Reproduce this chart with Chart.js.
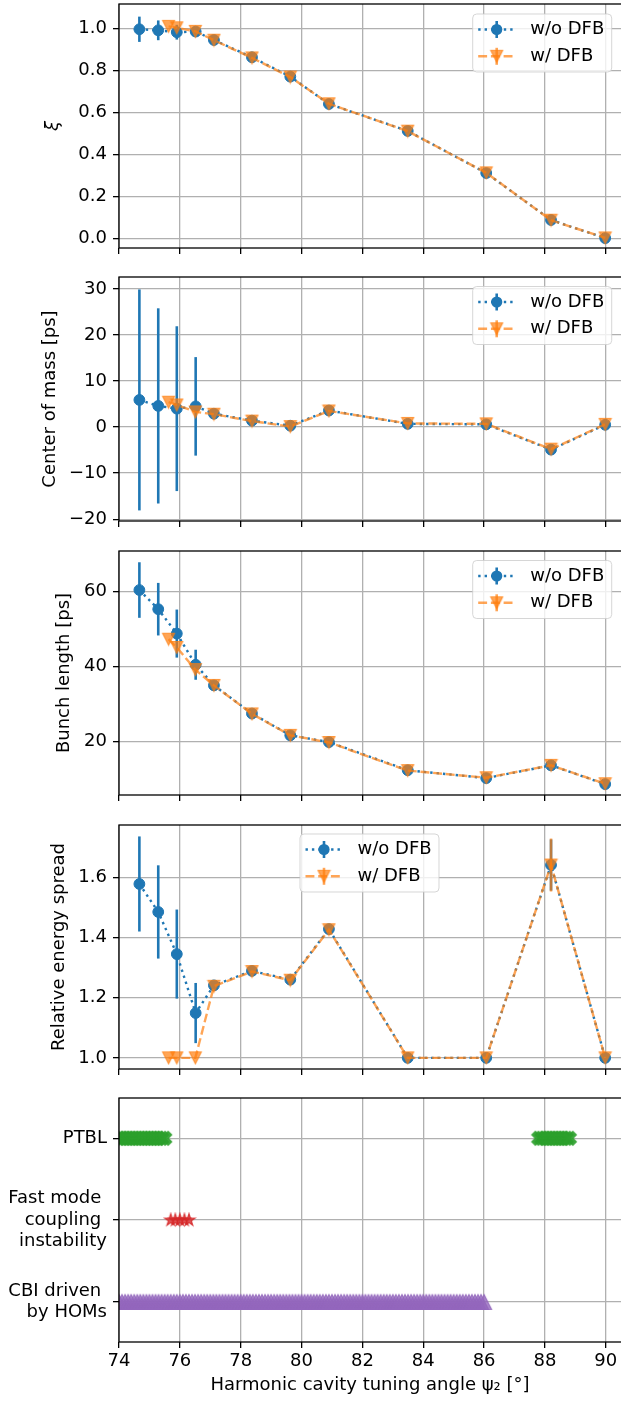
<!DOCTYPE html>
<html>
<head>
<meta charset="utf-8">
<script src="https://cdn.jsdelivr.net/npm/chart.js@4.4.1/dist/chart.umd.min.js"></script>
<style>
  html, body { margin: 0; padding: 0; background: #fff; }
  #wrap { position: relative; width: 621px; height: 1401px; overflow: hidden; }
  #wrap canvas { position: absolute; left: 0; }
</style>
</head>
<body>
<div id="wrap">
  <canvas id="p0" width="621" height="273" style="top:0px"></canvas>
  <canvas id="p1" width="621" height="273" style="top:273px"></canvas>
  <canvas id="p2" width="621" height="273" style="top:547px"></canvas>
  <canvas id="p3" width="621" height="273" style="top:821px"></canvas>
  <canvas id="p4" width="621" height="307" style="top:1094px"></canvas>
</div>
<script>
// ---------- data ----------
const xTicks = [74, 76, 78, 80, 82, 84, 86, 88, 90];
const seriesLabels = ['w/o DFB', 'w/ DFB'];

// tuning angles of the measured points
const psiNoDfb = [74.67, 75.29, 75.9, 76.52, 77.12, 78.37, 79.63, 80.9, 83.49, 86.07, 88.2, 89.98];
const psiDfb = [75.63, 75.9, 76.51, 77.12, 78.37, 79.63, 80.9, 83.49, 86.07, 88.2, 89.98];

// xi
const xiTicks = [0, 0.2, 0.4, 0.6, 0.8, 1.0];
const xiNoDfb = [0.995, 0.99, 0.981, 0.984, 0.944, 0.862, 0.77, 0.64, 0.512, 0.312, 0.089, 0.003];
const xiNoDfbErr = [0.06, 0.047, 0.035, 0.02, 0, 0, 0, 0, 0, 0, 0, 0];
const xiDfb = [1.009, 1.002, 0.985, 0.943, 0.859, 0.768, 0.641, 0.511, 0.313, 0.088, 0.004];

// center of mass [ps]
const comTicks = [-20, -10, 0, 10, 20, 30];
const comNoDfb = [5.9, 4.6, 4.0, 4.5, 2.9, 1.4, 0.3, 3.6, 0.7, 0.6, -4.9, 0.5];
const comNoDfbErr = [24.0, 21.2, 17.9, 10.7, 0, 0, 0, 0, 0, 0, 0, 0];
const comDfb = [5.4, 4.8, 3.3, 2.8, 1.3, 0.1, 3.5, 0.8, 0.7, -4.8, 0.6];

// bunch length [ps]
const blTicks = [20, 40, 60];
const blNoDfb = [60.4, 55.3, 48.8, 40.5, 35.0, 27.5, 21.7, 19.9, 12.4, 10.3, 13.7, 8.7];
const blNoDfbErr = [7.4, 7.0, 6.4, 4.0, 0, 0, 0, 0, 0, 0, 0, 0];
const blDfb = [47.3, 45.1, 39.2, 35.0, 27.4, 21.7, 19.8, 12.3, 10.4, 13.7, 8.8];

// relative energy spread
const esTicks = [1.0, 1.2, 1.4, 1.6];
const esNoDfb = [1.578, 1.485, 1.345, 1.149, 1.241, 1.289, 1.26, 1.428, 1.0, 1.0, 1.641, 1.0];
const esNoDfbErr = [0.158, 0.155, 0.148, 0.1, 0, 0, 0, 0, 0, 0, 0.085, 0];
const esDfb = [1.0, 1.0, 1.0, 1.238, 1.287, 1.258, 1.426, 1.0, 1.0, 1.641, 1.0];
const esDfbErr = [0, 0, 0, 0, 0, 0, 0, 0, 0, 0.088, 0];

// instability map (0 = CBI, 1 = fast mode coupling, 2 = PTBL)
const instabilityNames = [['CBI driven ', 'by HOMs'], ['Fast mode ', 'coupling ', 'instability'], ['PTBL']];
const ptblPsi = [74.0, 74.1, 74.2, 74.3, 74.4, 74.5, 74.6, 74.7, 74.8, 74.9, 75.0, 75.1, 75.2, 75.3, 75.4, 75.5,
                 87.8, 87.9, 88.0, 88.1, 88.2, 88.3, 88.4, 88.5, 88.6, 88.7, 88.8];
const fmciPsi = [75.7, 75.85, 76.0, 76.15, 76.3];
const cbiPsi = [74.0, 74.1, 74.2, 74.3, 74.4, 74.5, 74.6, 74.7, 74.8, 74.9,
                75.0, 75.1, 75.2, 75.3, 75.4, 75.5, 75.6, 75.7, 75.8, 75.9,
                76.0, 76.1, 76.2, 76.3, 76.4, 76.5, 76.6, 76.7, 76.8, 76.9,
                77.0, 77.1, 77.2, 77.3, 77.4, 77.5, 77.6, 77.7, 77.8, 77.9,
                78.0, 78.1, 78.2, 78.3, 78.4, 78.5, 78.6, 78.7, 78.8, 78.9,
                79.0, 79.1, 79.2, 79.3, 79.4, 79.5, 79.6, 79.7, 79.8, 79.9,
                80.0, 80.1, 80.2, 80.3, 80.4, 80.5, 80.6, 80.7, 80.8, 80.9,
                81.0, 81.1, 81.2, 81.3, 81.4, 81.5, 81.6, 81.7, 81.8, 81.9,
                82.0, 82.1, 82.2, 82.3, 82.4, 82.5, 82.6, 82.7, 82.8, 82.9,
                83.0, 83.1, 83.2, 83.3, 83.4, 83.5, 83.6, 83.7, 83.8, 83.9,
                84.0, 84.1, 84.2, 84.3, 84.4, 84.5, 84.6, 84.7, 84.8, 84.9,
                85.0, 85.1, 85.2, 85.3, 85.4, 85.5, 85.6, 85.7, 85.8, 85.9, 86.0];

// ---------- styles ----------
const BLUE = '#1f77b4';
const ORANGE = 'rgba(255,127,14,0.7)';
const GRID = '#b0b0b0';
const LW = 2.4;
const DOT = [2.4, 4];
const DASH = [8.9, 3.8];
const FS = 18;
const HALF_LH = FS * 1.2 / 2;

Chart.defaults.font.family = "'DejaVu Sans', sans-serif";
Chart.defaults.font.size = FS;
Chart.defaults.font.lineHeight = 1.2;
Chart.defaults.color = '#000';

// small canvases used as marker shapes (unit coords, y down)
function markerImg(size, pts, fill) {
  const c = document.createElement('canvas');
  c.width = c.height = Math.ceil(size + 3);
  const g = c.getContext('2d');
  const m = c.width / 2;
  g.beginPath();
  pts.forEach(([px, py], i) => {
    if (i) g.lineTo(m + px * size, m + py * size);
    else g.moveTo(m + px * size, m + py * size);
  });
  g.closePath();
  g.fillStyle = fill;
  g.strokeStyle = fill;
  g.lineWidth = 1.2;
  g.fill();
  g.stroke();
  return c;
}
const starPts = [];
for (let i = 0; i < 10; i++) {
  const a = -Math.PI / 2 + i * Math.PI / 5;
  const r = i % 2 ? 0.5 * 0.381966 : 0.5;
  starPts.push([r * Math.cos(a), r * Math.sin(a)]);
}
const xPts = [[0.25, 0], [0.5, 0.25], [0.75, 0], [1, 0.25], [0.75, 0.5], [1, 0.75],
              [0.75, 1], [0.5, 0.75], [0.25, 1], [0, 0.75], [0.25, 0.5], [0, 0.25]]
              .map(([a, b]) => [a - 0.5, b - 0.5]);
const triDownImg = markerImg(12, [[-0.5, -0.5], [0.5, -0.5], [0, 0.5]], ORANGE);
const triUpImg = markerImg(15, [[0, -0.5], [-0.5, 0.5], [0.5, 0.5]], 'rgba(148,103,189,0.8)');
const xImg = markerImg(14, xPts, 'rgba(44,160,44,0.9)');
const starImg = markerImg(13, starPts, 'rgba(214,39,40,0.8)');

// ---------- plugins ----------
const errorBars = {
  id: 'errorBars',
  beforeDatasetDraw(chart, args) {
    const ds = chart.data.datasets[args.index];
    if (!ds.errors) return;
    const ctx = chart.ctx, ys = chart.scales.y, a = chart.chartArea;
    ctx.save();
    ctx.beginPath();
    ctx.rect(a.left, a.top, a.right - a.left, a.bottom - a.top);
    ctx.clip();
    ctx.strokeStyle = ds.borderColor;
    ctx.lineWidth = 2.6;
    args.meta.data.forEach((pt, i) => {
      const e = ds.errors[i];
      if (!e) return;
      const v = ds.data[i].y;
      ctx.beginPath();
      ctx.moveTo(pt.x, ys.getPixelForValue(v - e));
      ctx.lineTo(pt.x, ys.getPixelForValue(v + e));
      ctx.stroke();
    });
    ctx.restore();
  }
};

const spines = {
  id: 'spines',
  afterDatasetsDraw(chart) {
    const ctx = chart.ctx, a = chart.chartArea;
    ctx.save();
    ctx.strokeStyle = '#000';
    ctx.lineWidth = 1.3;
    ctx.strokeRect(a.left, a.top, a.right - a.left + 2, a.bottom - a.top);
    ctx.restore();
  }
};

const mplLegend = {
  id: 'mplLegend',
  afterDraw(chart, args, opts) {
    if (opts.x === undefined) return;
    const ctx = chart.ctx;
    const x = opts.x, y = chart.chartArea.top + opts.dy, w = 139, h = 58;
    ctx.save();
    ctx.beginPath();
    if (ctx.roundRect) ctx.roundRect(x, y, w, h, 4); else ctx.rect(x, y, w, h);
    ctx.fillStyle = 'rgba(255,255,255,0.8)';
    ctx.fill();
    ctx.strokeStyle = 'rgba(204,204,204,0.8)';
    ctx.lineWidth = 1;
    ctx.stroke();
    const rows = [
      { color: BLUE, dash: DOT },
      { color: ORANGE, dash: DASH }
    ];
    rows.forEach((r, i) => {
      const cy = y + 15.5 + i * 26.8;
      const cx = x + 24;
      ctx.strokeStyle = r.color;
      ctx.lineWidth = LW;
      ctx.setLineDash(r.dash);
      ctx.beginPath();
      ctx.moveTo(x + 5.5, cy);
      ctx.lineTo(x + 42, cy);
      ctx.stroke();
      ctx.setLineDash([]);
      ctx.lineWidth = 2.6;
      ctx.beginPath();
      ctx.moveTo(cx, cy - 8.5);
      ctx.lineTo(cx, cy + 8.5);
      ctx.stroke();
      if (i === 0) {
        ctx.fillStyle = BLUE;
        ctx.beginPath();
        ctx.arc(cx, cy, 5.6, 0, Math.PI * 2);
        ctx.fill();
      } else {
        ctx.drawImage(triDownImg, cx - triDownImg.width / 2, cy - triDownImg.height / 2);
      }
      ctx.fillStyle = '#000';
      ctx.textBaseline = 'middle';
      ctx.textAlign = 'left';
      ctx.font = FS + "px 'DejaVu Sans', sans-serif";
      ctx.fillText(seriesLabels[i], x + 57.5, cy);
    });
    ctx.restore();
  }
};

// ---------- panels ----------
function pts(xs, ys) { return xs.map((x, i) => ({ x: x, y: ys[i] })); }

function seriesSets(noDfb, noDfbErr, dfb, dfbErr) {
  return [
    { data: pts(psiNoDfb, noDfb), errors: noDfbErr, order: 2, showLine: true,
      borderColor: BLUE, borderWidth: LW, borderDash: DOT,
      pointStyle: 'circle', pointRadius: 5.4, pointBackgroundColor: BLUE, pointBorderColor: BLUE, pointBorderWidth: 1 },
    { data: pts(psiDfb, dfb), errors: dfbErr, order: 1, showLine: true,
      borderColor: ORANGE, borderWidth: LW, borderDash: DASH,
      pointStyle: triDownImg, pointRadius: 6 }
  ];
}

function levelSet(xs, level, img) {
  return { data: xs.map(x => ({ x: x, y: level })), showLine: false, clip: 0,
           pointStyle: img, pointRadius: 7 };
}

function makePanel(id, cfg) {
  const canvas = document.getElementById(id);
  const xAxisH = canvas.height - 4 - 244;
  new Chart(canvas, {
    type: 'scatter',
    data: { datasets: cfg.datasets },
    options: {
      responsive: false,
      animation: false,
      events: [],
      layout: { autoPadding: false, padding: { top: 4, left: 0, right: 0, bottom: 0 } },
      plugins: {
        legend: { display: false },
        tooltip: { enabled: false },
        mplLegend: cfg.legend || {}
      },
      scales: {
        x: {
          type: 'linear', min: 74, max: 90.5,
          afterBuildTicks: s => { s.ticks = xTicks.map(v => ({ value: v })); },
          afterFit: s => { s.height = xAxisH; s.paddingLeft = 0; s.paddingRight = 0; },
          grid: { color: GRID, lineWidth: 1.3, tickColor: '#000', tickWidth: 1.3, tickLength: 6 },
          border: { display: false },
          ticks: { display: !!cfg.last, padding: 2.9, maxRotation: 0, autoSkip: false, callback: v => String(v) },
          title: { display: !!cfg.last, text: 'Harmonic cavity tuning angle ψ₂ [°]', padding: { top: 0, bottom: 4.5 } }
        },
        y: {
          type: 'linear', min: cfg.yMin, max: cfg.yMax,
          afterBuildTicks: s => { s.ticks = cfg.yTicks.map(v => ({ value: v })); },
          afterFit: s => { s.width = 119; s.paddingTop = 0; s.paddingBottom = 0; },
          grid: { color: GRID, lineWidth: 1.3, tickColor: '#000', tickWidth: 1.3, tickLength: 6 },
          border: { display: false },
          ticks: { padding: 6, autoSkip: false, callback: cfg.yFmt },
          title: { display: !!cfg.yTitle, text: cfg.yTitle || '',
                   font: { style: cfg.italicTitle ? 'italic' : 'normal' },
                   padding: { top: (cfg.titleX || 0) - HALF_LH, bottom: 0 } }
        }
      }
    },
    plugins: [errorBars, spines, mplLegend]
  });
}

const minus = v => (v < 0 ? '\u2212' + Math.abs(v) : String(v));

makePanel('p0', {
  datasets: seriesSets(xiNoDfb, xiNoDfbErr, xiDfb, null),
  yMin: -0.044, yMax: 1.115, yTicks: xiTicks, yFmt: v => v.toFixed(1),
  yTitle: 'ξ', italicTitle: true, titleX: 53, legend: { x: 472.7, dy: 10 }
});
makePanel('p1', {
  datasets: seriesSets(comNoDfb, comNoDfbErr, comDfb, null),
  yMin: -20.4, yMax: 32.6, yTicks: comTicks, yFmt: minus,
  yTitle: 'Center of mass [ps]', titleX: 50, legend: { x: 472.7, dy: 9.5 }
});
makePanel('p2', {
  datasets: seriesSets(blNoDfb, blNoDfbErr, blDfb, null),
  yMin: 5.8, yMax: 70.8, yTicks: blTicks, yFmt: v => String(v),
  yTitle: 'Bunch length [ps]', titleX: 64, legend: { x: 472.7, dy: 9.5 }
});
makePanel('p3', {
  datasets: seriesSets(esNoDfb, esNoDfbErr, esDfb, esDfbErr),
  yMin: 0.963, yMax: 1.774, yTicks: esTicks, yFmt: v => v.toFixed(1),
  yTitle: 'Relative energy spread', titleX: 59.5, legend: { x: 300, dy: 9 }
});
makePanel('p4', {
  datasets: [
    levelSet(ptblPsi, 2, xImg),
    levelSet(fmciPsi, 1, starImg),
    levelSet(cbiPsi, 0, triUpImg)
  ],
  yMin: -0.489, yMax: 2.492, yTicks: [0, 1, 2], yFmt: v => instabilityNames[v],
  last: true
});
</script>
</body>
</html>
